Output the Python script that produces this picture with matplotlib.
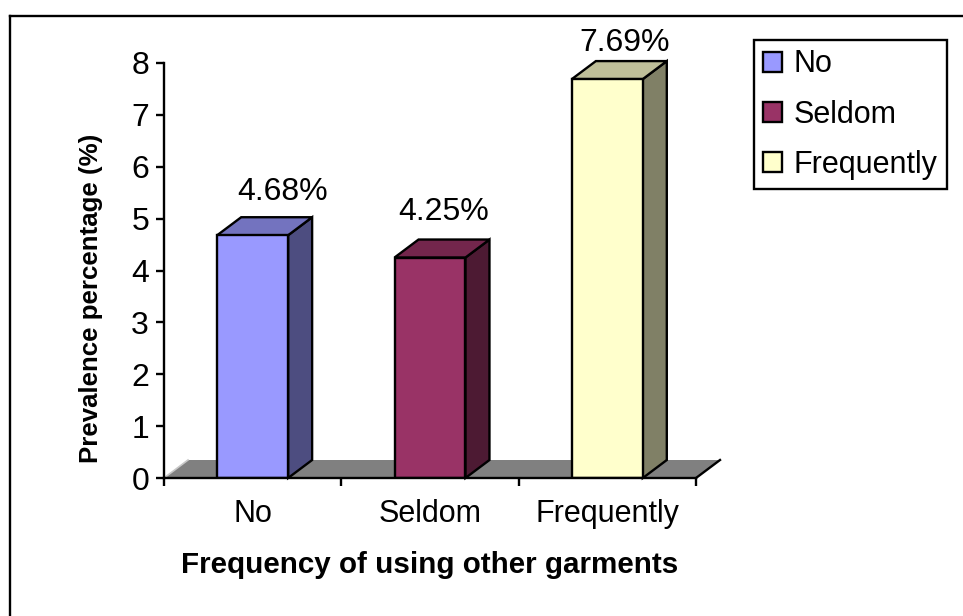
import matplotlib
matplotlib.use('Agg')
import matplotlib.pyplot as plt
from matplotlib.lines import Line2D
from matplotlib.patches import Patch, Polygon

categories = ["No", "Seldom", "Frequently"]
prevalence = [4.68, 4.25, 7.69]
front_colors = ["#9999ff", "#993366", "#ffffcc"]
side_colors = ["#4d4d80", "#4d1a33", "#808066"]
top_colors = ["#7373bf", "#73264c", "#bfbf99"]
y_ticks = [0, 1, 2, 3, 4, 5, 6, 7, 8]

W, H = 963, 616
plt.rcParams['font.family'] = ['Liberation Sans', 'DejaVu Sans']

fig = plt.figure(figsize=(W / 100, H / 100), dpi=100)
ax = fig.add_axes([164 / W, (H - 478) / H, 532 / W, 415 / H])
ax.set_xlim(0, 3)
ax.set_ylim(0, 8)
ax.patch.set_alpha(0)

# pixel size of the fake 3D depth, in data units
dx = 24 / (532 / 3)
dy = 18 / (415 / 8)
bar_w = 0.4
lw = 1.7

# grey floor behind the bars
ax.add_patch(Polygon([(0, 0), (dx, dy), (3 + dx, dy), (3, 0)], closed=True, facecolor='#808080',
                     edgecolor='none', clip_on=False, zorder=1))
ax.plot([3, 3 + dx], [0, dy], color='black', lw=lw, clip_on=False, zorder=1.5)
ax.plot([0, dx], [0, dy], color='#c8c8c8', lw=1.2, clip_on=False, zorder=1.5)

positions = [i + 0.5 for i in range(len(categories))]
ax.bar(positions, prevalence, width=bar_w, color=front_colors, edgecolor='black', linewidth=lw, zorder=3)
for x, v, side, top in zip(positions, prevalence, side_colors, top_colors):
    left, right = x - bar_w / 2, x + bar_w / 2
    ax.add_patch(Polygon([(right, 0), (right + dx, dy), (right + dx, v + dy), (right, v)], closed=True,
                         facecolor=side, edgecolor='black', lw=lw, clip_on=False, zorder=2))
    ax.add_patch(Polygon([(left, v), (left + dx, v + dy), (right + dx, v + dy), (right, v)], closed=True,
                         facecolor=top, edgecolor='black', lw=lw, clip_on=False, zorder=2))

# value labels sit above the bars, nudged by hand
label_shift = [(30, 43), (14, 46), (17, 36)]
for x, v, (sx, sy) in zip(positions, prevalence, label_shift):
    ax.annotate(f"{v:.2f}%", (x, v), xytext=(sx * 0.72, sy * 0.72), textcoords='offset points',
                ha='center', va='center', fontsize=23, color='black')

# axes
for name in ('top', 'right'):
    ax.spines[name].set_visible(False)
for name in ('left', 'bottom'):
    ax.spines[name].set_linewidth(lw)
    ax.spines[name].set_zorder(4)
ax.set_yticks(y_ticks)
ax.tick_params(axis='y', labelsize=23, length=5.8, width=lw, pad=5)
ax.set_xticks([0, 1, 2, 3])
ax.set_xticklabels([])
ax.set_xticks(positions, minor=True)
ax.set_xticklabels(categories, minor=True, fontsize=22)
ax.tick_params(axis='x', which='major', length=5.8, width=lw)
ax.tick_params(axis='x', which='minor', length=0, pad=15)

fig.text(91 / W, 1 - 298 / H, "Prevalence percentage (%)", rotation=90, ha='center', va='center',
         fontsize=18.6, fontweight='bold')
fig.text(430 / W, 1 - 565 / H, "Frequency of using other garments", ha='center', va='center',
         fontsize=21.3, fontweight='bold')

# legend
handles = [Patch(facecolor=c, edgecolor='black', linewidth=lw, label=n)
           for c, n in zip(front_colors, categories)]
leg = fig.legend(handles=handles, loc='upper left', bbox_to_anchor=(754 / W, 1 - 40 / H),
                 borderaxespad=0, fontsize=22, frameon=True, fancybox=False, framealpha=1,
                 edgecolor='black', handlelength=0.62, handleheight=0.62, handletextpad=0.36,
                 labelspacing=0.66, borderpad=0.31)
leg.get_frame().set_linewidth(lw)

# outer chart frame, open on the right and bottom
fig.add_artist(Line2D([10 / W, 10 / W], [0, 1 - 16 / H], color='black', lw=lw))
fig.add_artist(Line2D([10 / W, 1], [1 - 16 / H, 1 - 16 / H], color='black', lw=lw))

fig.savefig('out.png', dpi=100)
